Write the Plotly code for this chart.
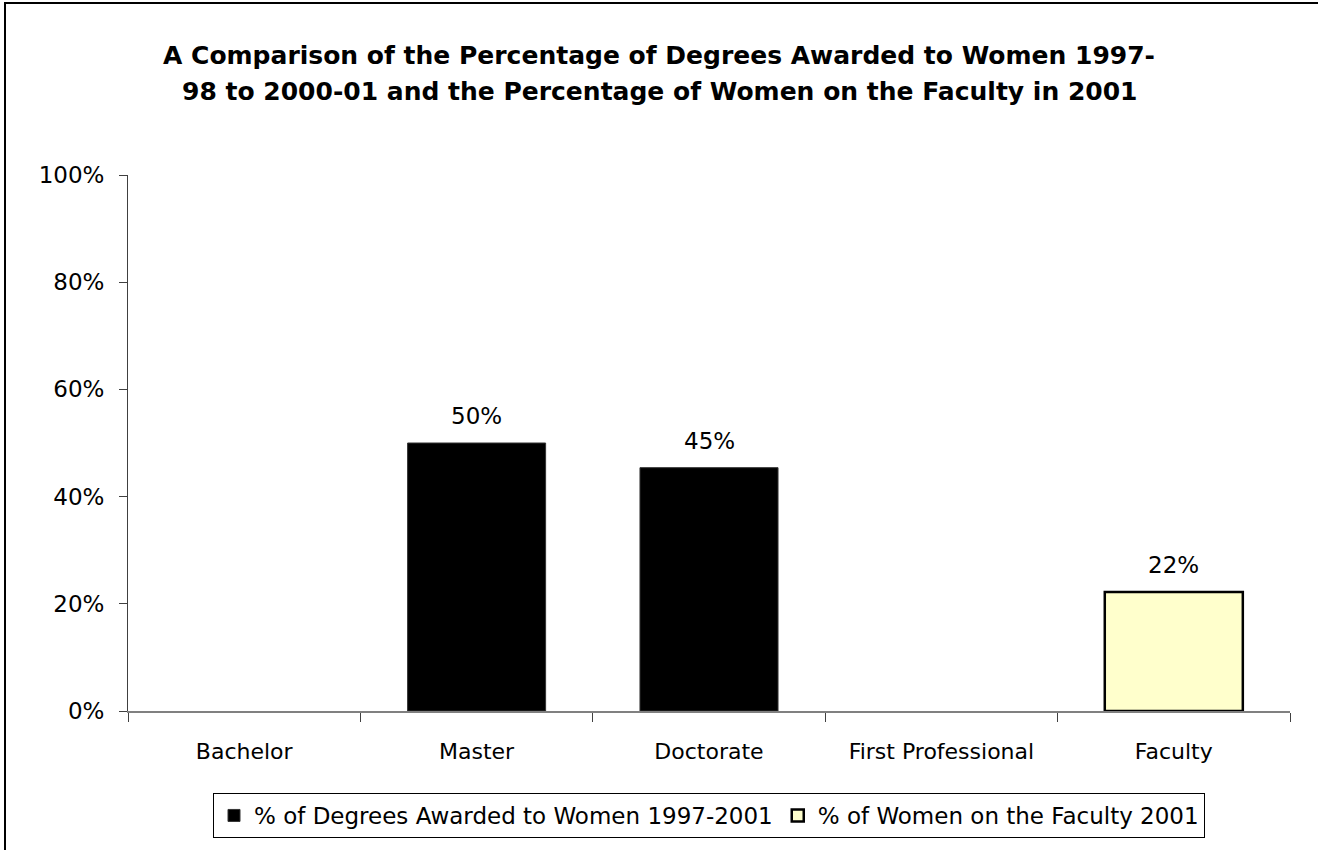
import plotly.graph_objects as go

categories = ["Bachelor", "Master", "Doctorate", "First Professional", "Faculty"]
degree_cats = ["Bachelor", "Master", "Doctorate", "First Professional"]
degree_vals = [None, 0.50, 0.454, None]
faculty_cats = ["Faculty"]
faculty_vals = [0.222]
y_ticks = [0, 0.2, 0.4, 0.6, 0.8, 1.0]
y_ticklabels = ["0%", "20%", "40%", "60%", "80%", "100%"]

series1_name = "% of Degrees Awarded to Women 1997-2001"
series2_name = "% of Women on the Faculty 2001"
title_lines = ["A Comparison of the Percentage of Degrees Awarded to Women 1997-",
               "98 to 2000-01 and the Percentage of Women on the Faculty in 2001"]

FONT = "DejaVu Sans"

fig = go.Figure()
fig.add_trace(go.Bar(
    x=degree_cats, y=degree_vals, name=series1_name,
    marker=dict(color="#000000", line=dict(color="#333333", width=1)),
))
fig.add_trace(go.Bar(
    x=faculty_cats, y=faculty_vals, name=series2_name,
    marker=dict(color="#FFFFCC", line=dict(color="#000000", width=2.5)),
))

# data labels
for xs, ys in ((degree_cats, degree_vals), (faculty_cats, faculty_vals)):
    for x, y in zip(xs, ys):
        if y is None:
            continue
        fig.add_annotation(
            x=x, y=y, text=f"{round(y * 100):d}%", showarrow=False,
            yanchor="bottom", yshift=12,
            font=dict(family=FONT, size=23, color="#000000"),
        )

L, R, T, B = 128, 28, 175, 139
W, H = 1318, 850
pw, ph = W - L - R, H - T - B

def px_x(p):
    return (p - L) / pw

def px_y(p):
    return (H - B - p) / ph

# title as two centred lines
for line, cy in zip(title_lines, (55, 92)):
    fig.add_annotation(
        xref="paper", yref="paper", x=px_x(W / 2), y=px_y(cy),
        xanchor="center", yanchor="middle", showarrow=False, text=line,
        font=dict(family=FONT, size=25, color="#000000", weight="bold"),
    )

# outer chart border (left and top edges visible; right/bottom run off the page)
fig.add_shape(type="rect", xref="paper", yref="paper",
              x0=px_x(5), x1=px_x(1420), y0=px_y(3), y1=px_y(960),
              line=dict(color="#000000", width=2), layer="below")

fig.update_layout(
    width=W, height=H,
    margin=dict(l=L, r=R, t=T, b=B, autoexpand=False),
    paper_bgcolor="white", plot_bgcolor="white",
    barmode="overlay", bargap=0.406,
    font=dict(family=FONT, color="#000000"),
    legend=dict(orientation="h", x=0.5, xanchor="center",
                y=px_y(793), yanchor="top",
                bordercolor="#000000", borderwidth=1,
                font=dict(family=FONT, size=23, color="#000000"),
                itemwidth=30, tracegroupgap=0, traceorder="normal"),
    showlegend=True,
)

fig.update_xaxes(
    type="category", categoryorder="array", categoryarray=categories,
    range=[-0.5, len(categories) - 0.5],
    showline=True, linecolor="#808080", linewidth=2,
    ticks="outside", tickson="boundaries", ticklen=9, tickcolor="#404040", tickwidth=1,
    ticklabelstandoff=20,
    tickfont=dict(family=FONT, size=22, color="#000000"),
    showgrid=False, zeroline=False,
)
fig.update_yaxes(
    range=[0, 1], tickvals=y_ticks, ticktext=y_ticklabels,
    showline=True, linecolor="#404040", linewidth=1,
    ticks="outside", ticklen=8, tickcolor="#404040", tickwidth=1,
    ticklabelstandoff=10,
    tickfont=dict(family=FONT, size=23, color="#000000"),
    showgrid=False, zeroline=False,
)

fig.write_html("out.html", config={"displayModeBar": False},
               post_script="document.body.style.margin='0';")
